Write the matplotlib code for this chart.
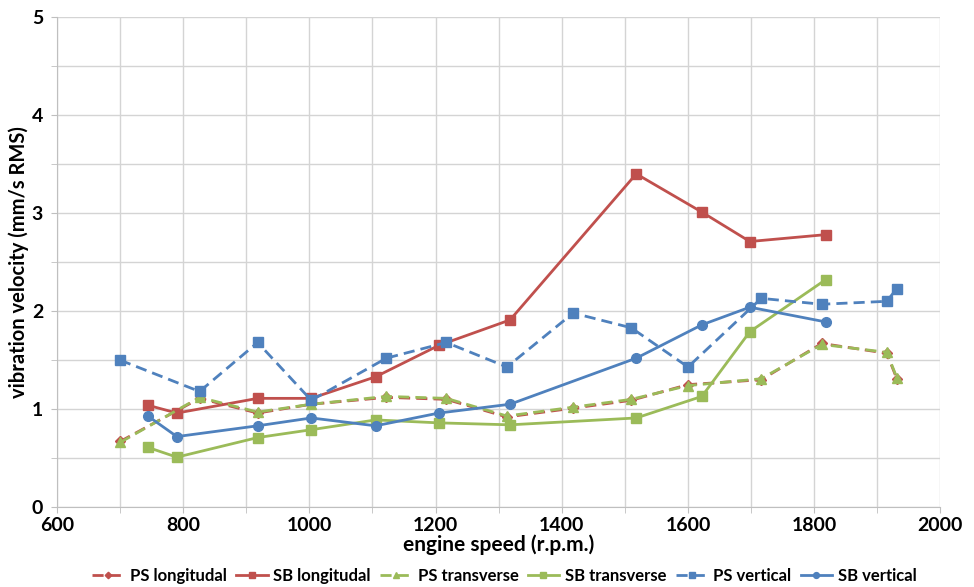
import matplotlib
matplotlib.use("Agg")
import matplotlib.pyplot as plt
from matplotlib.ticker import MultipleLocator

plt.rcParams['font.family'] = ['Lato', 'DejaVu Sans']

# Data
ps_x = [700, 826, 918, 1003, 1122, 1217, 1313, 1418, 1510, 1600, 1716, 1812, 1915, 1931]
ps_longitudal = [0.67, 1.11, 0.96, 1.05, 1.12, 1.10, 0.92, 1.01, 1.09, 1.25, 1.30, 1.67, 1.57, 1.31]
ps_transverse = [0.66, 1.12, 0.97, 1.05, 1.13, 1.11, 0.93, 1.02, 1.10, 1.24, 1.31, 1.66, 1.58, 1.32]
ps_vertical = [1.50, 1.18, 1.68, 1.09, 1.52, 1.68, 1.43, 1.98, 1.83, 1.43, 2.13, 2.07, 2.10, 2.23]

sb_x = [744, 790, 918, 1003, 1105, 1205, 1318, 1518, 1622, 1698, 1818]
sb_longitudal = [1.04, 0.96, 1.11, 1.11, 1.33, 1.65, 1.91, 3.40, 3.01, 2.71, 2.78]
sb_transverse = [0.61, 0.51, 0.71, 0.79, 0.89, 0.86, 0.84, 0.91, 1.13, 1.79, 2.32]
sb_vertical = [0.93, 0.72, 0.83, 0.91, 0.83, 0.96, 1.05, 1.52, 1.86, 2.04, 1.89]

red = '#C0504D'
green = '#9BBB59'
blue = '#4F81BD'

fig = plt.figure(figsize=(9.74, 5.87), dpi=100)
ax = fig.add_axes([0.0585, 0.136, 0.907, 0.835])

lw = 2.0
ms = 7
dash = (4, 2.2)
ax.plot(ps_x, ps_longitudal, color=red, lw=lw, ls=(0, dash), marker='D', ms=ms - 1.5,
        label='PS longitudal')
ax.plot(sb_x, sb_longitudal, color=red, lw=lw, ls='-', marker='s', ms=ms,
        label='SB longitudal')
ax.plot(ps_x, ps_transverse, color=green, lw=lw, ls=(0, dash), marker='^', ms=ms,
        label='PS transverse')
ax.plot(sb_x, sb_transverse, color=green, lw=lw, ls='-', marker='s', ms=ms,
        label='SB transverse')
ax.plot(ps_x, ps_vertical, color=blue, lw=lw, ls=(0, dash), marker='s', ms=ms,
        label='PS vertical')
ax.plot(sb_x, sb_vertical, color=blue, lw=lw, ls='-', marker='o', ms=ms,
        label='SB vertical')

ax.set_xlim(600, 2000)
ax.set_ylim(0, 5)
ax.xaxis.set_major_locator(MultipleLocator(200))
ax.xaxis.set_minor_locator(MultipleLocator(100))
ax.yaxis.set_major_locator(MultipleLocator(1))
ax.yaxis.set_minor_locator(MultipleLocator(0.5))
ax.grid(True, which='both', color='#D4D4D4', lw=1.0)
ax.set_axisbelow(True)
for s in ['top', 'right']:
    ax.spines[s].set_visible(False)
for s in ['left', 'bottom']:
    ax.spines[s].set_color('#BFBFBF')
ax.tick_params(axis='both', which='both', color='#BFBFBF', length=4, labelsize=14)
ax.tick_params(axis='x', which='both', pad=3)
ax.tick_params(axis='y', which='both', length=4, pad=6)
for lab in ax.get_xticklabels() + ax.get_yticklabels():
    lab.set_fontweight('bold')

ax.set_xlabel('engine speed (r.p.m.)', fontsize=15, fontweight='bold', labelpad=0.5)
ax.set_ylabel('vibration velocity (mm/s RMS)', fontsize=14.5, fontweight='bold', labelpad=2)

leg = fig.legend(loc='lower center', bbox_to_anchor=(0.518, -0.02), ncol=6, frameon=False,
                 prop={'weight': 'bold', 'size': 12}, handlelength=1.9, columnspacing=0.55,
                 handletextpad=0.35, markerscale=0.6)

fig.savefig('out.png', dpi=100)
